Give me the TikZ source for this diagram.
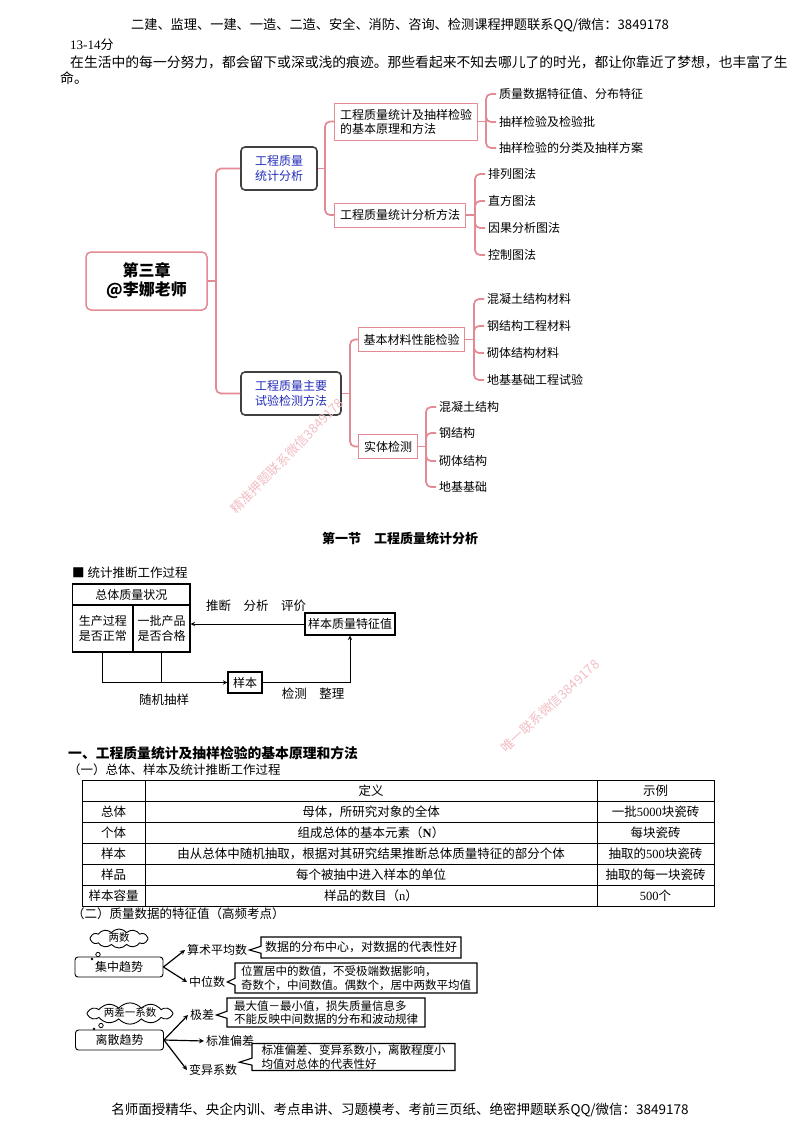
\documentclass[tikz,border=0pt]{standalone}
\usepackage{fontspec}
\setmainfont{Noto Sans CJK SC}
\newfontfamily\tms{Liberation Serif}
\usetikzlibrary{shapes, shapes.symbols, shapes.callouts, arrows, positioning, calc}
\definecolor{mappink}{RGB}{228,138,148}
\definecolor{mapblue}{RGB}{35,45,185}
\definecolor{markpink}{RGB}{242,190,196}
\newcommand\fsz[2]{\fontsize{#1}{#2}\selectfont}

\begin{document}
\begin{tikzpicture}[x=1pt, y=-1pt, >=stealth,
    txtline/.style={inner sep=0pt, font=\fsz{12.5}{15}},
    conn/.style={draw=mappink, line width=1.7pt, rounded corners=5pt},
    rootbox/.style={rectangle, draw=mappink, line width=1.5pt, rounded corners=5pt, minimum width=121pt, minimum height=58pt, align=center, font=\fsz{16}{19}\bfseries},
    topic/.style={rectangle, draw=black!75, line width=1.6pt, rounded corners=4pt, fill=white, minimum height=43pt, align=center, text=mapblue, font=\fsz{12}{14.5}},
    branch/.style={rectangle, draw=mappink, line width=0.9pt, minimum height=24pt, inner xsep=4pt, align=left, font=\fsz{12}{14}},
    leaf/.style={anchor=west, inner xsep=3pt, inner ysep=1pt, font=\fsz{12}{14}},
    flowbox/.style={rectangle, draw, line width=1.2pt, align=center, inner sep=1pt, font=\fsz{12}{15}},
    flowarr/.style={->, line width=1pt},
    cell/.style={inner sep=0pt, font=\fsz{12.5}{15}},
    trend/.style={rectangle, draw, rounded corners=3pt, line width=0.9pt, minimum width=88pt, minimum height=20pt, font=\fsz{12}{14}},
    bubble/.style={cloud, draw, cloud puffs=12, cloud puff arc=100, cloud ignores aspect, line width=0.9pt, inner sep=0pt, text height=7.5pt, text depth=1.5pt, minimum height=19pt, font=\fsz{10.5}{12}},
    term/.style={anchor=west, inner sep=2pt, font=\fsz{12}{14}},
    note/.style={rectangle callout, draw, line width=1.1pt, fill=white, callout pointer width=7pt, align=left, inner xsep=4pt, inner ysep=1pt, font=\fsz{11.5}{13.5}},
    trarr/.style={->, line width=1.2pt},
    wmark/.style={text=markpink, inner sep=0pt, font=\fsz{13}{13}}
]
\path[fill=white, use as bounding box] (0,0) rectangle (800,1132);

% page header
\node[txtline, font=\fsz{13.2}{15}] (head) at (400,25) {二建、监理、一建、一造、二造、安全、消防、咨询、检测课程押题联系QQ/微信：3849178};
\node[txtline, anchor=west, font=\fsz{13}{15}] (score) at (70,45) {{\tms 13-14}分};
\node[txtline, anchor=west, font=\fsz{13.8}{16}] (motto) at (70,62) {在生活中的每一分努力，都会留下或深或浅的痕迹。那些看起来不知去哪儿了的时光，都让你靠近了梦想，也丰富了生};
\node[txtline, anchor=west, font=\fsz{13.8}{16}] (motto2) at (60,78) {命。};

% mind map
\node[rootbox] (root) at (146.5,281) {第三章\\@李娜老师};
\node[topic, minimum width=76pt] (stat) at (279,168.5) {工程质量\\统计分析};
\node[topic, minimum width=100pt] (test) at (291,393.5) {工程质量主要\\试验检测方法};
\node[branch, minimum width=143pt, minimum height=37pt] (basic) at (406,121.5) {工程质量统计及抽样检验\\的基本原理和方法};
\node[branch, minimum width=131pt] (method) at (400,215) {工程质量统计分析方法};
\node[branch, minimum width=106pt] (material) at (411.5,339.5) {基本材料性能检验};
\node[branch, minimum width=59pt] (entity) at (388,446.5) {实体检测};

\coordinate (hroot) at (216,281);
\coordinate (hstat) at (325,168.5);
\coordinate (htest) at (350,393.5);
\coordinate (hbasic) at (486,121.5);
\coordinate (hmethod) at (475,215);
\coordinate (hmaterial) at (474,339.5);
\coordinate (hentity) at (426,446.5);

\draw[conn] (root.east) -- (hroot);
\draw[conn] (stat.west) -| (hroot) |- (test.west);
\draw[conn] (stat.east) -- (hstat);
\draw[conn] (basic.west) -| (hstat) |- (method.west);
\draw[conn] (test.east) -- (htest);
\draw[conn] (material.west) -| (htest) |- (entity.west);
\draw[conn] (basic.east) -- (hbasic);
\draw[conn] (method.east) -- (hmethod);
\draw[conn] (material.east) -- (hmaterial);
\draw[conn] (entity.east) -- (hentity);

\foreach \lbl/\yy [count=\i] in {质量数据特征值、分布特征/94, 抽样检验及检验批/122, 抽样检验的分类及抽样方案/148}{
  \node[leaf] (basic\i) at (496,\yy) {\lbl};
  \draw[conn] (hbasic) |- (basic\i.west);
}
\foreach \lbl/\yy [count=\i] in {排列图法/174, 直方图法/201, 因果分析图法/228, 控制图法/255}{
  \node[leaf] (method\i) at (485,\yy) {\lbl};
  \draw[conn] (hmethod) |- (method\i.west);
}
\foreach \lbl/\yy [count=\i] in {混凝土结构材料/299, 钢结构工程材料/326, 砌体结构材料/353, 地基基础工程试验/380}{
  \node[leaf] (material\i) at (484,\yy) {\lbl};
  \draw[conn] (hmaterial) |- (material\i.west);
}
\foreach \lbl/\yy [count=\i] in {混凝土结构/407, 钢结构/433, 砌体结构/461, 地基基础/487}{
  \node[leaf] (entity\i) at (436,\yy) {\lbl};
  \draw[conn] (hentity) |- (entity\i.west);
}

% statistical inference flow
\node[txtline, font=\fsz{13}{15}\bfseries] (sect) at (400,539) {第一节\quad 工程质量统计分析};
\node[txtline, anchor=west] (flowtitle) at (72,573) {■ 统计推断工作过程};
\node[flowbox, minimum width=117.5pt, minimum height=21pt] (whole) at (131.25,594.5) {总体质量状况};
\node[flowbox, minimum width=60.5pt, minimum height=47pt] (proc) at (102.75,628.5) {生产过程\\是否正常};
\node[flowbox, minimum width=57pt, minimum height=47pt] (batch) at (161.5,628.5) {一批产品\\是否合格};
\node[flowbox, minimum width=90pt, minimum height=22pt] (feature) at (350,624) {样本质量特征值};
\node[flowbox, minimum width=34pt, minimum height=21pt] (sample) at (245,682.5) {样本};
\draw[flowarr] (feature.west) -- (feature.west -| batch.east);
\draw[flowarr] (proc.south) |- (sample.west);
\draw[line width=1pt] (batch.south) -- (batch.south |- sample.west);
\draw[flowarr] (sample.east) -| (feature.south);
\node[txtline] (infer) at (256,606) {推断\quad 分析\quad 评价};
\node[txtline] (randlbl) at (164,700) {随机抽样};
\node[txtline] (checklbl) at (313,694) {检测\quad 整理};

% table
\node[txtline, anchor=west, font=\fsz{13.8}{16}\bfseries] (sec1) at (68,753) {一、工程质量统计及抽样检验的基本原理和方法};
\node[txtline, anchor=west] (sec11) at (68,770) {（一）总体、样本及统计推断工作过程};
\draw[line width=0.9pt] (82,780) rectangle (714,906);
\foreach \yy in {801,822,843,864,885} \draw[line width=0.9pt] (82,\yy) -- (714,\yy);
\foreach \xx in {145,597} \draw[line width=0.9pt] (\xx,780) -- (\xx,906);
\node[cell] (hdef) at (371,790.5) {定义};
\node[cell] (hex) at (655.5,790.5) {示例};
\foreach \lbl/\dfn/\ex [count=\i] in {总体/母体，所研究对象的全体/一批{\tms 5000}块瓷砖,
    个体/组成总体的基本元素（{\tms\bfseries N}）/每块瓷砖,
    样本/由从总体中随机抽取，根据对其研究结果推断总体质量特征的部分个体/抽取的{\tms 500}块瓷砖,
    样品/每个被抽中进入样本的单位/抽取的每一块瓷砖,
    样本容量/样品的数目（{\tms n}）/{\tms 500}个}{
  \node[cell] (lbl\i) at (113.5,{790.5+21*\i}) {\lbl};
  \node[cell] (dfn\i) at (371,{790.5+21*\i}) {\dfn};
  \node[cell] (ex\i) at (655.5,{790.5+21*\i}) {\ex};
}

% characteristic values
\node[txtline, anchor=west] (sec12) at (72,914) {（二）质量数据的特征值（高频考点）};
\node[bubble, minimum width=58pt] (cloudA) at (119,938.5) {两数};
\node[trend] (central) at (119,967) {集中趋势};
\draw[line width=0.8pt] (98,954.5) circle (2.2pt);
\fill (92,959) circle (1.4pt);
\node[term] (mean) at (185,950) {算术平均数};
\node[term] (median) at (187,982) {中位数};
\draw[trarr] (central.east) -- (mean.west);
\draw[trarr] (central.east) -- (median.west);
\node[note, font=\fsz{12}{14}, minimum width=198pt, minimum height=21pt, callout absolute pointer={(mean.east)}] (meannote) at (361,947.5) {数据的分布中心，对数据的代表性好};
\node[note, minimum width=242pt, minimum height=30pt, callout absolute pointer={(median.east)}] (mediannote) at (356,978) {位置居中的数值，不受极端数据影响，\\奇数个，中间数值。偶数个，居中两数平均值};

\node[bubble, minimum width=86pt] (cloudB) at (130,1013.5) {两差一系数};
\node[trend] (spread) at (119.5,1040) {离散趋势};
\draw[line width=0.8pt] (101,1025.5) circle (2.2pt);
\fill (94,1029) circle (1.4pt);
\node[term] (range) at (188,1015) {极差};
\node[term] (stdev) at (204,1041) {标准偏差};
\node[term] (cv) at (187,1070) {变异系数};
\draw[trarr] (spread.east) -- (range.west);
\draw[trarr] (spread.east) -- (stdev.west);
\draw[trarr] (spread.east) -- (cv.west);
\node[note, minimum width=198pt, minimum height=29pt, callout absolute pointer={(range.east)}] (rangenote) at (326,1012.5) {最大值－最小值，损失质量信息多\\不能反映中间数据的分布和波动规律};
\node[note, minimum width=203pt, minimum height=27pt, callout absolute pointer={(cv.north east)}] (cvnote) at (353.5,1057) {标准偏差、变异系数小，离散程度小\\均值对总体的代表性好};

% page footer
\node[txtline, font=\fsz{13.5}{15}] (foot) at (400,1110) {名师面授精华、央企内训、考点串讲、习题模考、考前三页纸、绝密押题联系QQ/微信：3849178};

% watermarks
\node[wmark, rotate=46] (markA) at (287,456) {精准押题联系微信3849178};
\node[wmark, rotate=43] (markB) at (550,706) {唯一联系微信3849178};
\end{tikzpicture}
\end{document}
